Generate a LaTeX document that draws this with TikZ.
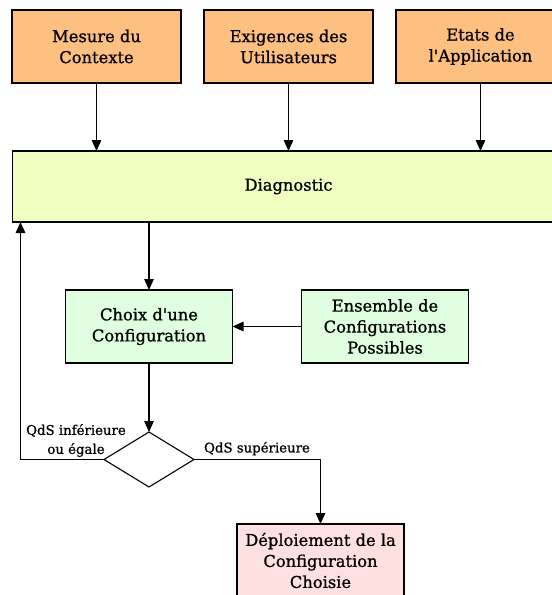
\documentclass[tikz,border=0pt]{standalone}
\usepackage{fontspec}
\setmainfont{DejaVu Serif}[FakeBold=0.9]
\usetikzlibrary{arrows.meta,positioning,shapes.geometric,calc}
\definecolor{inputorange}{RGB}{254,192,128}
\definecolor{diagyellow}{RGB}{241,255,192}
\definecolor{choicegreen}{RGB}{224,255,224}
\definecolor{deploypink}{RGB}{255,224,224}

\begin{document}
\begin{tikzpicture}[x=1pt, y=1pt, node distance=23pt,
  every node/.style={font=\fontsize{16.3}{21}\selectfont,outer sep=0pt},
  box/.style={draw,line width=1.5pt,align=center,minimum width=169pt,minimum height=73pt,inner sep=2pt},
  lbl/.style={font=\fontsize{13.3}{19}\selectfont,align=center},
  link/.style={-{Triangle[length=11pt,width=9.5pt]},line width=1.4pt}]
  \useasboundingbox (0,0) rectangle (552,-595);
  \clip (0,0) rectangle (552,-595);
  % inputs
  \node[box,fill=inputorange] (mesure) at (96.5,-46.5) {Mesure du\\Contexte};
  \node[box,fill=inputorange,right=of mesure] (exig) {Exigences des\\Utilisateurs};
  \node[box,fill=inputorange,right=of exig] (etats) {Etats de\\l\textquotesingle Application};
  \node[box,fill=diagyellow,below=68pt of exig,minimum width=552pt,minimum height=71pt] (diag) {Diagnostic};
  % choice loop
  \node[box,fill=choicegreen,minimum width=167pt,below right=68pt and 53pt of diag.south west] (choix) {Choix d\textquotesingle une\\Configuration};
  \node[box,fill=choicegreen,minimum width=167pt,right=69pt of choix] (ensemble) {Ensemble de\\Configurations\\Possibles};
  \node[draw,diamond,line width=1.1pt,minimum width=90pt,minimum height=55pt,inner sep=0pt,below=69pt of choix] (dec) {};
  \node[box,fill=deploypink,minimum width=167pt,below=37pt of dec,xshift=171.5pt] (deploy) {Déploiement de la\\Configuration\\Choisie};
  \coordinate (back) at ([xshift=8pt]diag.south west);
  \node[lbl] (lowlbl) at ([xshift=-28pt,yshift=19pt]dec.west) {QdS inférieure\\ou égale};
  \node[lbl] (highlbl) at ([xshift=63pt,yshift=11pt]dec.east) {QdS supérieure};
  \draw[link] (mesure) -- (mesure |- diag.north); \draw[link] (exig) -- (diag); \draw[link] (etats) -- (etats |- diag.north);
  \draw[link] (choix |- diag.south) -- (choix); \draw[link] (ensemble) -- (choix); \draw[link] (choix) -- (dec);
  \draw[link] (dec.west) -| (back); \draw[link] (dec.east) -| (deploy);
\end{tikzpicture}
\end{document}
